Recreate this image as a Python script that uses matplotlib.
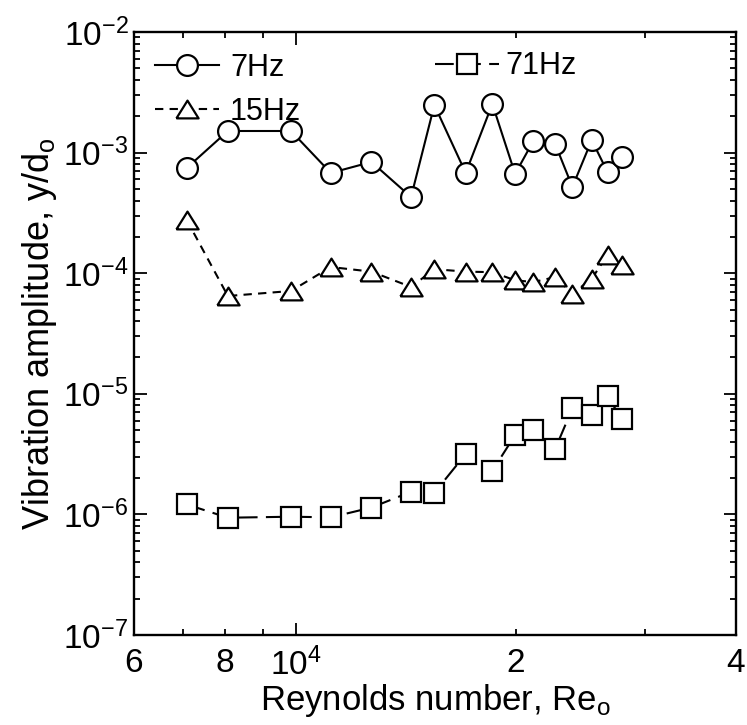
import matplotlib
matplotlib.use("Agg")
import matplotlib.pyplot as plt
from matplotlib.ticker import LogLocator, FixedLocator, FuncFormatter, NullFormatter

plt.rcParams["font.family"] = ["Liberation Sans", "DejaVu Sans"]
plt.rcParams["mathtext.fontset"] = "custom"
plt.rcParams["mathtext.rm"] = "Liberation Sans"
plt.rcParams["mathtext.it"] = "Liberation Sans"

# Reynolds number (shared by all three series)
re_o = [7085, 8065, 9840, 11155, 12680, 14365, 15460, 17065, 18560,
        19940, 21120, 22620, 23885, 25385, 26680, 27905]

amp_7hz = [7.45e-4, 1.51e-3, 1.51e-3, 6.78e-4, 8.36e-4, 4.28e-4, 2.48e-3,
           6.78e-4, 2.53e-3, 6.65e-4, 1.25e-3, 1.18e-3, 5.19e-4, 1.27e-3,
           6.9e-4, 9.2e-4]
amp_15hz = [2.76e-4, 6.47e-5, 7.12e-5, 1.125e-4, 1.03e-4, 7.69e-5, 1.08e-4,
            1.03e-4, 1.02e-4, 8.73e-5, 8.45e-5, 9.27e-5, 6.76e-5, 8.99e-5,
            1.416e-4, 1.17e-4]
amp_71hz = [1.21e-6, 9.39e-7, 9.57e-7, 9.46e-7, 1.14e-6, 1.54e-6, 1.51e-6,
            3.17e-6, 2.30e-6, 4.55e-6, 5.01e-6, 3.48e-6, 7.58e-6, 6.67e-6,
            9.59e-6, 6.15e-6]

x_label_ticks = {6000: "6", 8000: "8", 20000: "2", 40000: "4"}

fig = plt.figure(figsize=(7.47, 7.25), dpi=100)
ax = fig.add_axes([0.1794, 0.1241, 0.8059, 0.8318])

tri = [(-1, -0.8), (1, -0.8), (0, 0.8), (-1, -0.8)]
common = dict(color="black", markerfacecolor="white", markeredgecolor="black",
              markeredgewidth=1.6, linewidth=1.5)

ax.plot(re_o, amp_7hz, marker="o", markersize=15, linestyle="-",
        label="7Hz", **common)
ax.plot(re_o, amp_15hz, marker=tri, markersize=16, linestyle=(0, (4, 3)),
        label="15Hz", **common)
ax.plot(re_o, amp_71hz, marker="s", markersize=14, linestyle=(0, (9, 4)),
        label="71Hz", **common)

ax.set_xscale("log")
ax.set_yscale("log")
ax.set_xlim(6000, 40000)
ax.set_ylim(1e-7, 1e-2)

ax.xaxis.set_major_locator(FixedLocator([10000]))
ax.xaxis.set_minor_locator(LogLocator(base=10, subs=range(2, 10), numticks=20))
ax.xaxis.set_minor_formatter(FuncFormatter(
    lambda v, p: x_label_ticks.get(int(round(v)), "")))
ax.yaxis.set_minor_locator(LogLocator(base=10, subs=range(2, 10), numticks=20))
ax.yaxis.set_minor_formatter(NullFormatter())

ax.tick_params(which="both", direction="in", top=True, right=True,
               labelsize=24, width=1.3)
ax.tick_params(which="major", length=9)
ax.tick_params(which="minor", length=4.5)
ax.tick_params(axis="x", which="both", pad=9)
ax.tick_params(axis="y", which="both", pad=4)
for s in ax.spines.values():
    s.set_linewidth(1.7)

ax.set_xlabel("Reynolds number, Re$_\\mathregular{o}$", fontsize=25, labelpad=0)
ax.set_ylabel("Vibration amplitude, y/d$_\\mathregular{o}$", fontsize=26, labelpad=3)

h = ax.get_lines()
leg1 = ax.legend(handles=h[:2], loc="upper left", bbox_to_anchor=(0.035, 0.965),
                 frameon=False, fontsize=22, handlelength=2.1,
                 handletextpad=0.35, labelspacing=0.45, borderpad=0,
                 borderaxespad=0)
ax.add_artist(leg1)
ax.legend(handles=h[2:], loc="upper left", bbox_to_anchor=(0.5, 0.968),
          frameon=False, fontsize=22, handlelength=2.1, handletextpad=0.2,
          borderpad=0, borderaxespad=0)

fig.savefig("out.png", dpi=100)
